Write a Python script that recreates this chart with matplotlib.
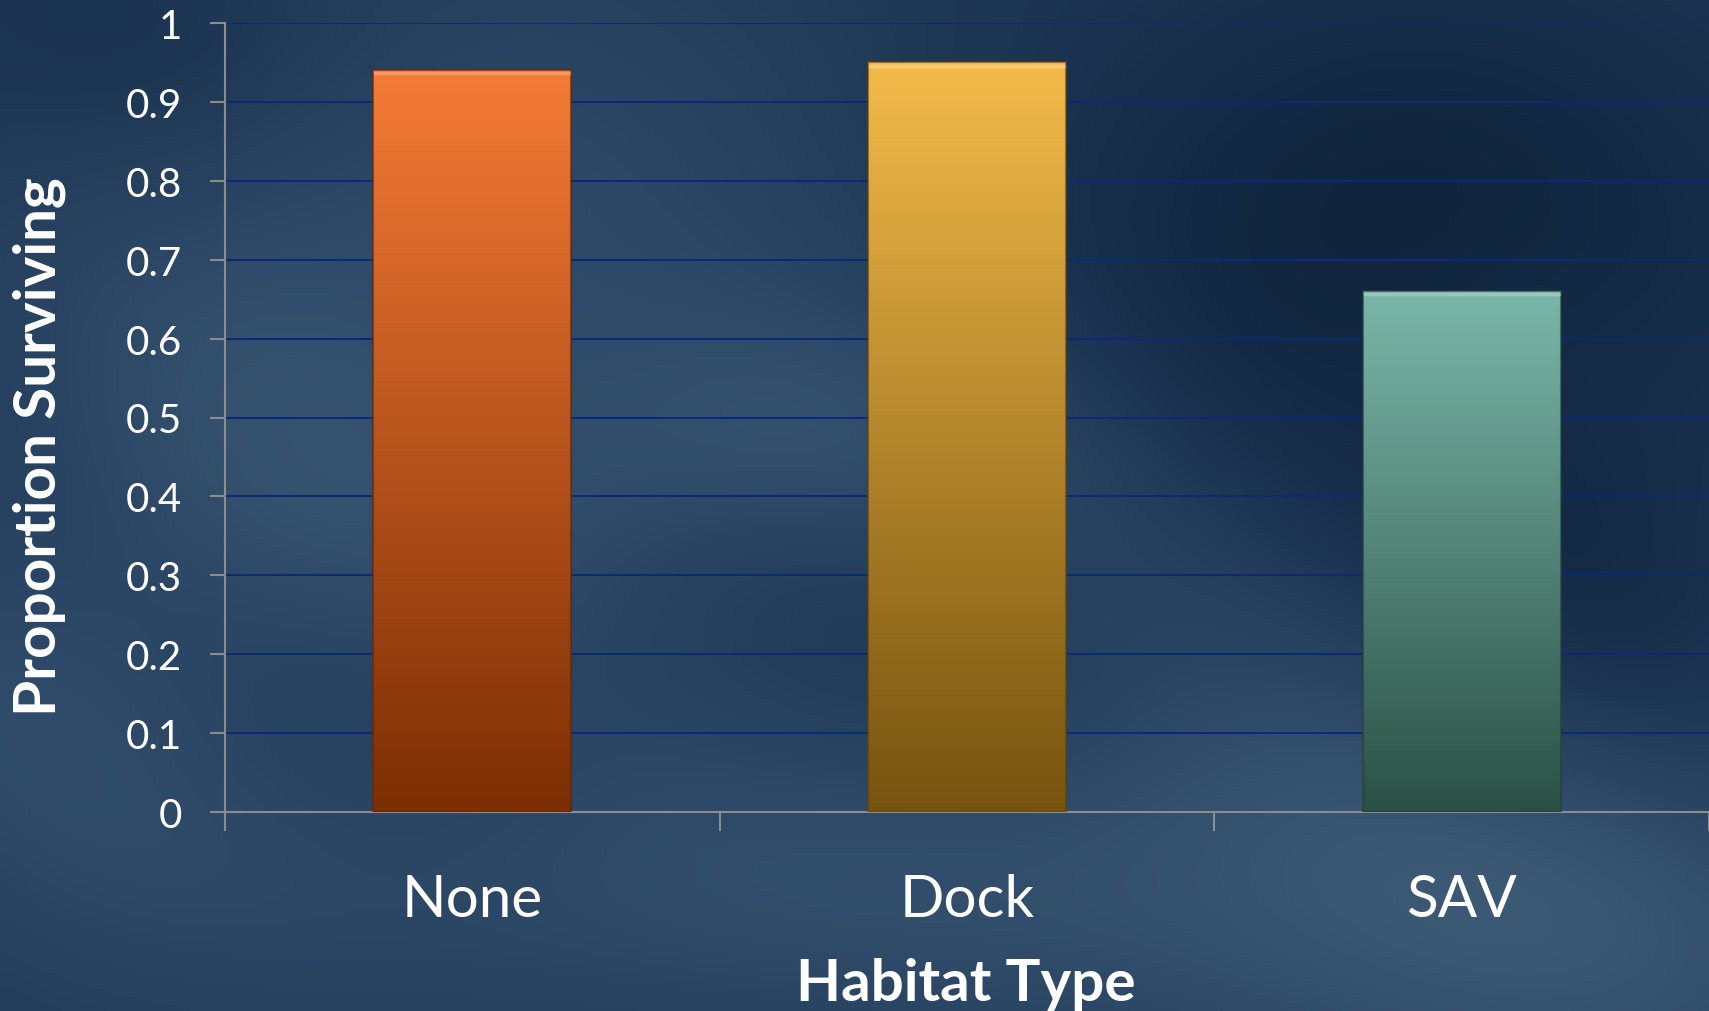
import matplotlib
matplotlib.use("Agg")
import matplotlib.pyplot as plt
import numpy as np
from matplotlib.colors import LinearSegmentedColormap, to_rgb

# ── Data ─────────────────────────────────────────────────────────────────────
habitats = ["None", "Dock", "SAV"]
surviving = [0.94, 0.95, 0.66]
y_ticks = [0, 0.1, 0.2, 0.3, 0.4, 0.5, 0.6, 0.7, 0.8, 0.9, 1]
y_tick_labels = ["0", "0.1", "0.2", "0.3", "0.4", "0.5", "0.6", "0.7", "0.8", "0.9", "1"]

# top / bottom colours of each bar's gradient
bar_tops = ["#F57B36", "#F3BB4A", "#7AB7A8"]
bar_bottoms = ["#7C2E04", "#76530F", "#2B5046"]

plt.rcParams["font.family"] = ["Lato", "DejaVu Sans"]

W, H, DPI = 17.09, 10.12, 100
fig = plt.figure(figsize=(W, H), dpi=DPI)

# ── Background: dark blue, smoothly mottled ──────────────────────────────────
bg = fig.add_axes([0, 0, 1, 1], zorder=0)
bg.set_axis_off()
nx, ny = 340, 200
gx, gy = np.meshgrid(np.linspace(0, 1, nx), np.linspace(0, 1, ny))
light = np.full_like(gx, 0.45)
for cx, cy, sx, sy, a in [(0.25, 0.75, 0.18, 0.25, 0.3), (0.05, 0.35, 0.12, 0.2, 0.25),
                          (0.45, 0.55, 0.12, 0.1, 0.25), (0.7, 0.15, 0.2, 0.15, 0.3),
                          (0.95, 0.05, 0.15, 0.15, 0.3), (0.3, 0.1, 0.2, 0.12, 0.2)]:
    light += a * np.exp(-((gx - cx) ** 2 / (2 * sx ** 2) + (gy - cy) ** 2 / (2 * sy ** 2)))
for cx, cy, sx, sy, a in [(0.82, 0.8, 0.14, 0.16, 0.25), (0.1, 0.95, 0.1, 0.1, 0.15),
                          (0.97, 0.5, 0.08, 0.15, 0.15)]:
    light -= a * np.exp(-((gx - cx) ** 2 / (2 * sx ** 2) + (gy - cy) ** 2 / (2 * sy ** 2)))
# soft diagonal streaks
light += 0.08 * np.sin((gx * 1.7 + gy) * 9.0) * np.exp(-((gy - 0.45) ** 2) / 0.08)
light = np.clip(light, 0, 1)
bg_cmap = LinearSegmentedColormap.from_list("bg", ["#0B1D33", "#1A324F", "#2C4866", "#42607C"])
bg.imshow(light, cmap=bg_cmap, extent=[0, 1, 0, 1], origin="lower", aspect="auto",
          interpolation="bicubic", vmin=0.1, vmax=1.0)
bg.set_xlim(0, 1)
bg.set_ylim(0, 1)

# ── Chart axes ───────────────────────────────────────────────────────────────
ax = fig.add_axes([225 / 1709, 1 - 813 / 1012, 1 - 225 / 1709, (813 - 24) / 1012], zorder=1)
ax.patch.set_alpha(0)
x = np.arange(len(habitats))
width = 0.4
ax.set_xlim(-0.5, len(habitats) - 0.5)
ax.set_ylim(0, 1)

bars = ax.bar(x, surviving, width=width, color="none", edgecolor="none", zorder=3)
ramp = np.linspace(0, 1, 256).reshape(-1, 1)
for rect, top, bot in zip(bars, bar_tops, bar_bottoms):
    x0, w, h = rect.get_x(), rect.get_width(), rect.get_height()
    cm = LinearSegmentedColormap.from_list("g", [bot, top])
    img = ax.imshow(ramp, cmap=cm, extent=[x0, x0 + w, 0, h], origin="lower",
                    aspect="auto", zorder=3)
    img.set_clip_path(rect)
    # thin darker rim and light top edge
    ax.add_patch(plt.Rectangle((x0, 0), w, h, fill=False, lw=1.5,
                               edgecolor=tuple(c * 0.8 for c in to_rgb(bot)), alpha=0.6, zorder=4))
    ax.plot([x0 + 0.004, x0 + w - 0.004], [h - 0.004, h - 0.004], color="white",
            alpha=0.25, lw=2.5, zorder=4)

ax.set_yticks(y_ticks)
ax.set_yticklabels(y_tick_labels)
ax.yaxis.grid(True, color="#0A2A7A", lw=1.4, zorder=1)
ax.set_axisbelow(True)

# boundaries get the tick marks, centres get the labels
ax.set_xticks(np.arange(-0.5, len(habitats), 1.0))
ax.set_xticklabels([])
ax.set_xticks(x, minor=True)
ax.set_xticklabels(habitats, minor=True)
ax.tick_params(axis="x", which="major", length=14, width=1.5, color="#8C8C8C")
ax.tick_params(axis="x", which="minor", length=0, pad=44, labelsize=42, labelcolor="white")
ax.tick_params(axis="y", length=11, width=1.5, color="#8C8C8C", pad=20,
               labelsize=29, labelcolor="white")

for s in ["top", "right"]:
    ax.spines[s].set_visible(False)
for s in ["left", "bottom"]:
    ax.spines[s].set_color("#8C8C8C")
    ax.spines[s].set_linewidth(1.5)

fig.text(0.023, 0.5 * ((1012 - 174) + (1012 - 720)) / 1012, "Proportion Surviving",
         rotation=90, ha="center", va="center", fontsize=42, fontweight="bold", color="white")
fig.text(966 / 1709, 1 - 985 / 1012, "Habitat Type", ha="center", va="center",
         fontsize=42, fontweight="bold", color="white")

fig.savefig("out.png", dpi=DPI)
